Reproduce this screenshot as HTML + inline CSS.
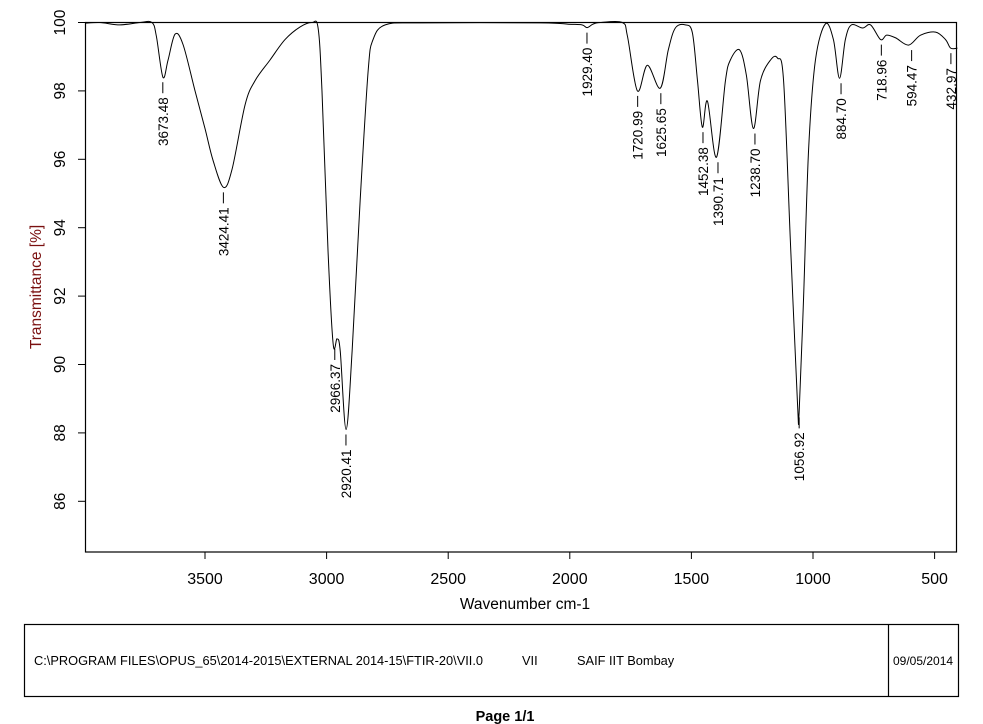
<!DOCTYPE html>
<html><head><meta charset="utf-8"><style>
body{margin:0;background:#fff;}
svg{display:block;font-family:"Liberation Sans",Arial,sans-serif;}
</style></head><body>
<svg width="983" height="724" viewBox="0 0 983 724" id="chart">
<rect x="0" y="0" width="983" height="724" fill="#fff"/>
<rect x="85.5" y="22.5" width="871" height="529.5" fill="none" stroke="#000" stroke-width="1.2"/>
<g id="xaxis"></g>
<g id="yaxis"></g>
<path id="spectrum" fill="none" stroke="#000" stroke-width="1"/>
<g id="peaks"></g>
<text x="525" y="609" font-size="15.5" text-anchor="middle">Wavenumber cm-1</text>
<text transform="translate(41,287) rotate(-90)" font-size="15.5" fill="#7a1010" text-anchor="middle">Transmittance [%]</text>
<rect x="24.5" y="624.5" width="934" height="72" fill="none" stroke="#000" stroke-width="1.2"/>
<line x1="888.5" y1="624.5" x2="888.5" y2="696.5" stroke="#000" stroke-width="1.2"/>
<text x="34" y="665" font-size="12.8">C:\PROGRAM FILES\OPUS_65\2014-2015\EXTERNAL 2014-15\FTIR-20\VII.0</text>
<text x="522" y="665" font-size="12.8">VII</text>
<text x="577" y="665" font-size="12.8">SAIF IIT Bombay</text>
<text x="893" y="665" font-size="12">09/05/2014</text>
<text x="505" y="721" font-size="14.5" font-weight="bold" text-anchor="middle">Page 1/1</text>
</svg>
<script>
const wavenumbers=[3992,3932,3850,3767,3718,3700,3673,3652,3623,3590,3541,3500,3467,3424,3389,3335,3294,3233,3171,3109,3060,3035,3019,2994,2973,2957,2944,2920,2895,2862,2829,2809,2759,2615,2121,2006,1950,1929,1905,1874,1784,1763,1722,1681,1628,1595,1566,1525,1496,1475,1455,1434,1397,1360,1340,1302,1274,1245,1216,1175,1146,1121,1093,1064,1057,1039,1018,990,949,916,891,867,842,796,763,722,697,660,607,558,496,455,434,406];
const transmittance=[99.98,100,99.93,100,100,99.6,98.4,98.9,99.66,99.35,98.0,96.9,95.97,95.18,95.7,97.6,98.3,98.9,99.5,99.87,100,99.84,98.0,93.3,90.6,90.75,90.4,88.1,90.4,94.8,98.6,99.5,99.93,99.99,99.99,99.95,99.93,99.85,99.95,100,100,99.6,98.0,98.75,98.08,99.2,99.84,99.93,99.7,98.3,96.94,97.7,96.06,98.3,98.9,99.2,98.46,96.9,98.3,98.9,98.96,98.3,93.6,88.9,88.6,91.9,96.3,98.9,99.96,99.5,98.37,99.5,99.93,99.84,99.93,99.5,99.63,99.55,99.34,99.63,99.72,99.5,99.25,99.25];
const peakWavenumbers=[3673.48,3424.41,2966.37,2920.41,1929.40,1720.99,1625.65,1452.38,1390.71,1238.70,1056.92,884.70,718.96,594.47,432.97];
const peakTransmittance=[98.4,95.18,90.6,88.1,99.85,98.0,98.08,96.94,96.06,96.9,88.6,98.37,99.5,99.34,99.25];
const xTicks=[3500,3000,2500,2000,1500,1000,500];
const yTicks=[100,98,96,94,92,90,88,86];
const NS="http://www.w3.org/2000/svg";
function x(w){return 205+(3500-w)*0.2432;}
function y(t){return 22.5+(100-t)*34.2;}
function mk(tag,attrs,parent){const e=document.createElementNS(NS,tag);for(const k in attrs)e.setAttribute(k,attrs[k]);parent.appendChild(e);return e;}
const xa=document.getElementById('xaxis'),ya=document.getElementById('yaxis'),pk=document.getElementById('peaks');
xTicks.forEach(v=>{
  const l=mk('line',{x1:x(v),x2:x(v),y1:552,y2:559,stroke:'#000'},xa);
  
  
  const t=mk('text',{x:x(v),y:584,'font-size':16,'text-anchor':'middle'},xa);
  t.textContent=v;
  
  
});
yTicks.forEach(v=>{
  const l=mk('line',{x1:78,x2:85.5,y1:y(v),y2:y(v),stroke:'#000'},ya);
  
  
  const t=mk('text',{transform:`translate(65,${y(v)}) rotate(-90)`,'font-size':15.5,'text-anchor':'middle'},ya);
  t.textContent=v;
  
  
});
const pts=wavenumbers.map((w,i)=>[x(w),y(transmittance[i])]);
let d=`M${pts[0][0]},${pts[0][1]}`;
for(let i=0;i<pts.length-1;i++){
  const p0=pts[Math.max(0,i-1)],p1=pts[i],p2=pts[i+1],p3=pts[Math.min(pts.length-1,i+2)];
  const c1=[p1[0]+(p2[0]-p0[0])/6,p1[1]+(p2[1]-p0[1])/6],c2=[p2[0]-(p3[0]-p1[0])/6,p2[1]-(p3[1]-p1[1])/6];
  d+=` C${c1[0]},${c1[1]} ${c2[0]},${c2[1]} ${p2[0]},${p2[1]}`;
}
document.getElementById('spectrum').setAttribute('d',d);
peakWavenumbers.forEach((w,i)=>{
  const px=x(w),py=y(peakTransmittance[i]);
  const l=mk('line',{x1:px,x2:px,y1:py+5,y2:py+16,stroke:'#000'},pk);
  
  
  const t=mk('text',{transform:`translate(${px+5},${py+20}) rotate(-90)`,'font-size':13.5,'text-anchor':'end'},pk);
  t.textContent=w.toFixed(2);
  
  
});
</script>
</body></html>
